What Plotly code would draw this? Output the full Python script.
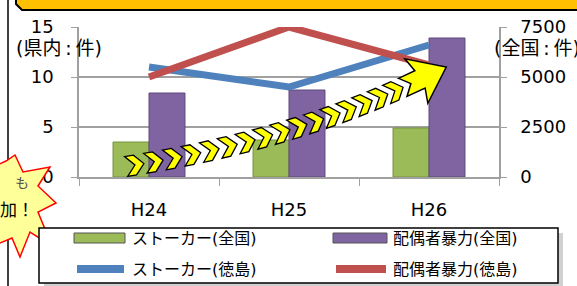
import plotly.graph_objects as go
import numpy as np

# ---------------- data ----------------
categories = ["H24", "H25", "H26"]
stalker_national = [1750, 1850, 2450]      # right axis (全国)
spousal_national = [4200, 4350, 6950]      # right axis (全国)
stalker_tokushima = [11, 9, 13.2]          # left axis (県内)
spousal_tokushima = [10, 15, 11.2]         # left axis (県内)
left_ticks = [0, 5, 10, 15]
right_ticks = [0, 2500, 5000, 7500]
series_names = ["ストーカー(全国)", "配偶者暴力(全国)", "ストーカー(徳島)", "配偶者暴力(徳島)"]
colors = ["#9BBB59", "#8064A2", "#4F81BD", "#C0504D"]

W, H = 577, 286
L, R, T, B = 79, 499, 27, 177   # plot area in pixels


def px(x, y):
    return ((x - L) / (R - L), (B - y) / (B - T))


def path(points):
    pts = [px(x, y) for x, y in points]
    s = "M %.5f %.5f " % pts[0]
    for p in pts[1:]:
        s += "L %.5f %.5f " % p
    return s + "Z"


FONT = "DejaVu Sans, Noto Sans CJK JP"

fig = go.Figure()
fig.add_trace(go.Bar(x=categories, y=stalker_national, name=series_names[0],
                     marker=dict(color=colors[0], line=dict(color="#76923C", width=1)),
                     yaxis="y", showlegend=False))
fig.add_trace(go.Bar(x=categories, y=spousal_national, name=series_names[1],
                     marker=dict(color=colors[1], line=dict(color="#5F497A", width=1)),
                     yaxis="y", showlegend=False))
fig.add_trace(go.Scatter(x=categories, y=stalker_tokushima, name=series_names[2], mode="lines",
                         line=dict(color=colors[2], width=7), yaxis="y2", showlegend=False,
                         cliponaxis=False))
fig.add_trace(go.Scatter(x=categories, y=spousal_tokushima, name=series_names[3], mode="lines",
                         line=dict(color=colors[3], width=7), yaxis="y2", showlegend=False,
                         cliponaxis=False))

shapes = []
annotations = []

# frame line on the left
shapes.append(dict(type="line", xref="paper", yref="paper", x0=px(8, 0)[0], x1=px(8, 0)[0],
                   y0=px(0, -5)[1], y1=px(0, 290)[1], line=dict(color="black", width=1.5), layer="above"))
# orange banner at top (cut off)
shapes.append(dict(type="path", xref="paper", yref="paper",
                   path=path([(16, -20), (16, 4), (22, 10), (590, 10), (590, -20)]),
                   fillcolor="#FFC000", line=dict(color="black", width=2), layer="above"))

# chevron arrow decoration
p0, pc, p1 = np.array([135, 165.]), np.array([290, 140.]), np.array([410, 84.])
n = 16
chev = [(-9, -10), (0, -10), (9, 0), (0, 10), (-9, 10), (0, 0)]
for i in range(n):
    t = i / n
    c = (1 - t) ** 2 * p0 + 2 * (1 - t) * t * pc + t ** 2 * p1
    d = 2 * (1 - t) * (pc - p0) + 2 * t * (p1 - pc)
    u = d / np.linalg.norm(d)
    nv = np.array([-u[1], u[0]])
    pts = [tuple(c + a * u + b * nv) for a, b in chev]
    shapes.append(dict(type="path", xref="paper", yref="paper", path=path(pts),
                       fillcolor="#FFFF00", line=dict(color="black", width=1.3), layer="above"))
d = 2 * (p1 - pc)
u = d / np.linalg.norm(d)
nv = np.array([-u[1], u[0]])
head = [(-8, -10), (10, -10), (6, -25), (40, 0), (8, 25), (12, 10), (-8, 10), (1, 0)]
shapes.append(dict(type="path", xref="paper", yref="paper",
                   path=path([tuple(p1 + a * u + b * nv) for a, b in head]),
                   fillcolor="#FFFF00", line=dict(color="black", width=1.5), layer="above"))

# explosion shape on the left
star = [(-5, 166), (6, 161), (15, 155), (23, 172), (50, 167), (38, 186), (56, 203),
        (38, 212), (52, 246), (30, 232), (20, 257), (12, 238), (-5, 245)]
shapes.append(dict(type="path", xref="paper", yref="paper", path=path(star),
                   fillcolor="#FFFF99", line=dict(color="#FF0000", width=1.5), layer="above"))
annotations.append(dict(x=px(13, 193)[0], y=px(13, 193)[1], xref="paper", yref="paper", text="も",
                        showarrow=False, font=dict(size=14, color="#555555", family=FONT)))
annotations.append(dict(x=px(-2, 222)[0], y=px(-2, 222)[1], xref="paper", yref="paper", text="加！",
                        showarrow=False, xanchor="left", font=dict(size=17, color="black", family=FONT)))

# manual legend
shapes.append(dict(type="rect", xref="paper", yref="paper",
                   x0=px(44, 0)[0], x1=px(563, 0)[0], y0=px(0, 233)[1], y1=px(0, 288)[1],
                   fillcolor="rgba(0,0,0,0.18)", line=dict(width=0), layer="above"))
shapes.append(dict(type="rect", xref="paper", yref="paper",
                   x0=px(39, 0)[0], x1=px(558, 0)[0], y0=px(0, 228)[1], y1=px(0, 283)[1],
                   fillcolor="white", line=dict(color="black", width=1.5), layer="above"))
rows = [238, 269]
cols = [(74, 125, 130), (333, 387, 391)]
for k, (name, col) in enumerate(zip(series_names, colors)):
    ci = k % 2
    ri = k // 2
    x0, x1, xt = cols[ci]
    yy = rows[ri]
    if ri == 0:
        shapes.append(dict(type="rect", xref="paper", yref="paper",
                           x0=px(x0, 0)[0], x1=px(x1, 0)[0], y0=px(0, yy - 5)[1], y1=px(0, yy + 5)[1],
                           fillcolor=col, line=dict(color="#555555", width=1), layer="above"))
    else:
        shapes.append(dict(type="line", xref="paper", yref="paper",
                           x0=px(x0 + 3, 0)[0], x1=px(x1 - 1, 0)[0], y0=px(0, yy)[1], y1=px(0, yy)[1],
                           line=dict(color=col, width=8), layer="above"))
    annotations.append(dict(x=px(xt, yy)[0], y=px(xt, yy)[1], xref="paper", yref="paper", text=name,
                            showarrow=False, xanchor="left", yanchor="middle",
                            font=dict(size=16, color="black", family=FONT)))

# axis unit labels
annotations.append(dict(x=px(14, 48)[0], y=px(14, 48)[1], xref="paper", yref="paper",
                        text="(県内\u2009:\u2009件)",
                        showarrow=False, xanchor="left", yanchor="middle",
                        font=dict(size=19, color="black", family=FONT)))
annotations.append(dict(x=px(492, 48)[0], y=px(492, 48)[1], xref="paper", yref="paper",
                        text="(全国\u2009:\u2009件)",
                        showarrow=False, xanchor="left", yanchor="middle",
                        font=dict(size=19, color="black", family=FONT)))

axis_gray = "#A0A0A0"
fig.update_layout(
    width=W, height=H,
    margin=dict(l=L, r=W - R, t=T, b=H - B, autoexpand=False),
    paper_bgcolor="white", plot_bgcolor="white",
    barmode="group", bargap=0.486, bargroupgap=0,
    font=dict(family=FONT, size=18, color="black"),
    xaxis=dict(type="category", showline=True, linecolor=axis_gray, linewidth=1.5,
               ticks="outside", tickson="boundaries", ticklen=7, tickcolor=axis_gray,
               tickfont=dict(size=18), ticklabelstandoff=16, showgrid=False, fixedrange=True),
    yaxis=dict(range=[0, 7500], tickvals=right_ticks, side="right", showgrid=True,
               gridcolor=axis_gray, gridwidth=1.5, showline=True, linecolor=axis_gray, linewidth=1.5,
               ticks="outside", ticklen=6, tickcolor=axis_gray, tickfont=dict(size=18),
               ticklabelstandoff=10, zeroline=False, automargin=False),
    yaxis2=dict(range=[0, 15], tickvals=left_ticks, side="left", overlaying="y", showgrid=False,
                showline=True, linecolor=axis_gray, linewidth=1.5, ticks="outside", ticklen=6,
                tickcolor=axis_gray, tickfont=dict(size=18), ticklabelstandoff=14, zeroline=False,
                automargin=False),
    shapes=shapes, annotations=annotations,
    showlegend=False,
)

fig.write_html("out.html", config={"displayModeBar": False},
               post_script="document.body.style.margin='0';document.body.style.overflow='hidden';")
